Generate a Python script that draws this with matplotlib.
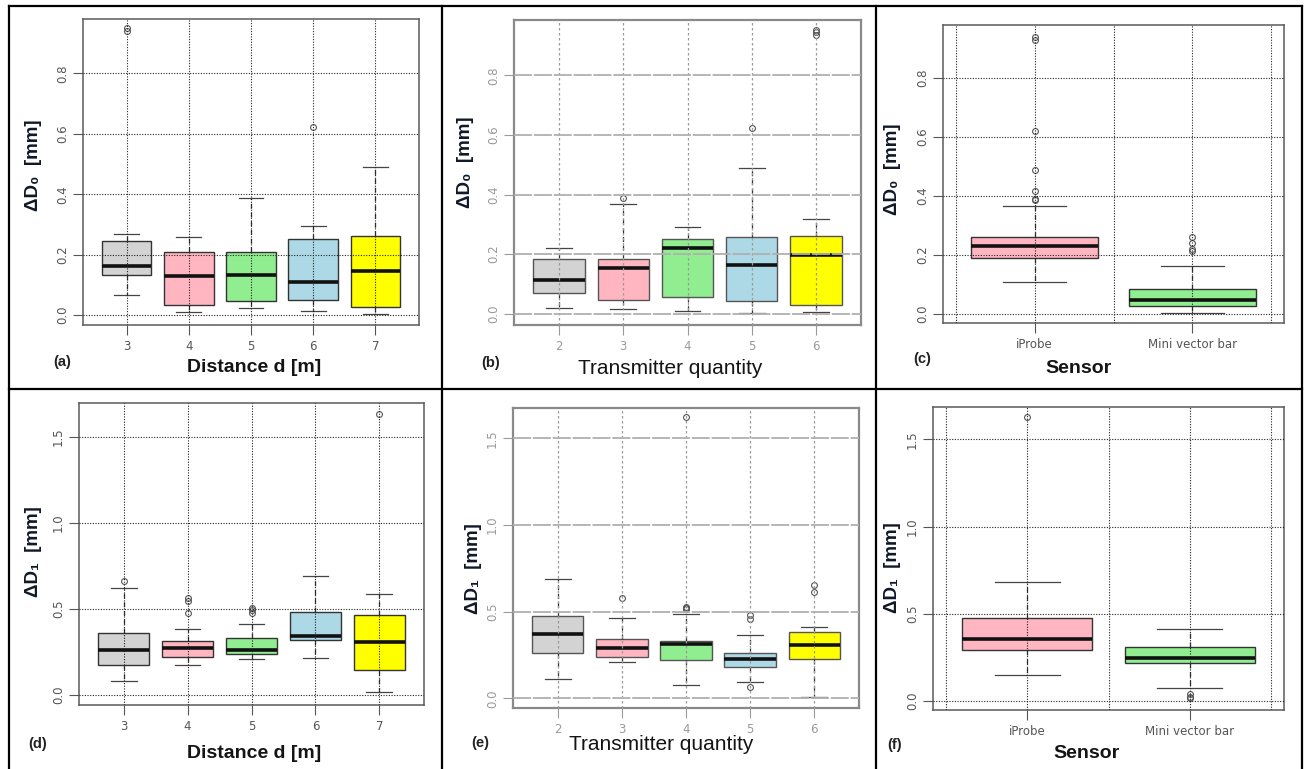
import matplotlib
matplotlib.use('Agg')
import matplotlib.pyplot as plt
from matplotlib.lines import Line2D
from matplotlib.ticker import FormatStrFormatter

W, H = 1304, 769

# categories
distance = ['3', '4', '5', '6', '7']
transmitters = ['2', '3', '4', '5', '6']
sensors = ['iProbe', 'Mini vector bar']

# five-number summaries per box: [whislo, q1, med, q3, whishi]
dist_d0 = [[0.065, 0.132, 0.162, 0.246, 0.269],
           [0.009, 0.034, 0.128, 0.210, 0.257],
           [0.022, 0.045, 0.132, 0.210, 0.389],
           [0.012, 0.049, 0.109, 0.253, 0.296],
           [0.004, 0.026, 0.146, 0.263, 0.489]]
dist_d0_out = [[0.940, 0.950], [], [], [0.623], []]

trans_d0 = [[0.020, 0.068, 0.113, 0.183, 0.221],
            [0.015, 0.047, 0.152, 0.182, 0.368],
            [0.009, 0.056, 0.219, 0.251, 0.290],
            [0.002, 0.041, 0.162, 0.256, 0.490],
            [0.007, 0.029, 0.196, 0.260, 0.317]]
trans_d0_out = [[], [0.390], [], [0.624], [0.937, 0.945, 0.952]]

sens_d0 = [[0.109, 0.188, 0.229, 0.259, 0.367],
           [0.003, 0.026, 0.046, 0.085, 0.162]]
sens_d0_out = [[0.386, 0.390, 0.418, 0.488, 0.622, 0.930, 0.939],
               [0.214, 0.219, 0.241, 0.262]]

dist_d1 = [[0.081, 0.174, 0.263, 0.362, 0.623],
           [0.176, 0.223, 0.271, 0.315, 0.383],
           [0.207, 0.236, 0.259, 0.329, 0.410],
           [0.215, 0.317, 0.343, 0.484, 0.689],
           [0.015, 0.145, 0.310, 0.466, 0.586]]
dist_d1_out = [[0.660], [0.478, 0.546, 0.561], [0.478, 0.494, 0.507], [], [1.633]]

trans_d1 = [[0.110, 0.263, 0.373, 0.475, 0.687],
            [0.208, 0.240, 0.290, 0.340, 0.462],
            [0.079, 0.223, 0.315, 0.333, 0.485],
            [0.094, 0.181, 0.227, 0.263, 0.365],
            [0.006, 0.227, 0.306, 0.381, 0.410]]
trans_d1_out = [[], [0.581], [0.515, 0.520, 0.529, 1.622], [0.067, 0.456, 0.481], [0.612, 0.654]]

sens_d1 = [[0.151, 0.292, 0.355, 0.478, 0.684],
           [0.075, 0.216, 0.245, 0.308, 0.413]]
sens_d1_out = [[1.626], [0.015, 0.025, 0.040]]

box_colors = ['#d3d3d3', '#ffb6c1', '#90ee90', '#add8e6', '#ffff00']
sensor_colors = ['#ffb6c1', '#90ee90']

LABEL_FONT = ['Liberation Sans', 'DejaVu Sans']


def px_axes(fig, x0, y0, x1, y1):
    return fig.add_axes([x0 / W, 1 - y1 / H, (x1 - x0) / W, (y1 - y0) / H])


def draw_panel(ax, cats, stats, outs, colors, ylim, yticks, blurry=False):
    data = []
    for s, o in zip(stats, outs):
        data.append({'whislo': s[0], 'q1': s[1], 'med': s[2], 'q3': s[3],
                     'whishi': s[4], 'fliers': o})
    pos = list(range(1, len(cats) + 1))
    edge = '#555555' if blurry else '#333333'
    bp = ax.bxp(data, positions=pos, widths=0.8, capwidths=0.4, patch_artist=True,
                boxprops=dict(edgecolor=edge, linewidth=1.0),
                medianprops=dict(color='#111111', linewidth=2.6),
                whiskerprops=dict(color='#333333', linewidth=0.9, linestyle=(0, (4, 3))),
                capprops=dict(color='#444444', linewidth=0.9),
                flierprops=dict(marker='o', markerfacecolor='none', markeredgecolor='#555555',
                                markersize=4.2, markeredgewidth=0.8))
    for patch, c in zip(bp['boxes'], colors):
        patch.set_facecolor(c)

    n = len(cats)
    pad = 0.04 * n
    ax.set_xlim(0.5 - pad, n + 0.5 + pad)
    ax.set_ylim(*ylim)
    ax.set_xticks(pos)
    ax.set_xticklabels(cats)
    ax.set_yticks(yticks)
    ax.yaxis.set_major_formatter(FormatStrFormatter('%.1f'))
    if n == 2:
        ax.set_xticks([0.5, 1.5, 2.5], minor=True)
        ax.tick_params(axis='x', which='minor', length=0)

    tick_col = '#9a9a9a' if blurry else '#555555'
    frame_col = '#8a8a8a' if blurry else '#5a5a5a'
    ax.tick_params(axis='both', direction='out', length=7, width=0.8,
                   color=tick_col, labelcolor=tick_col, labelsize=8.5)
    ax.tick_params(axis='x', pad=4)
    ax.tick_params(axis='y', labelrotation=90, pad=3)
    for lab in ax.get_yticklabels():
        lab.set_va('center')
    for sp in ax.spines.values():
        sp.set_color(frame_col)
        sp.set_linewidth(1.6 if blurry else 1.1)

    ax.set_axisbelow(False)
    if blurry:
        ax.grid(True, axis='y', color='#b0b0b0', linewidth=1.3, linestyle=(0, (10, 1)))
        ax.grid(True, axis='x', color='#9a9a9a', linewidth=0.9, linestyle=(0, (2, 2)))
    else:
        ax.grid(True, which='both', color='#222222', linewidth=0.8, linestyle=(0, (1, 1.4)))


fig = plt.figure(figsize=(W / 100, H / 100), dpi=100)
fig.patch.set_facecolor('white')

panels = [
    # frame px, cats, stats, outliers, colors, ylim, yticks, blurry
    ((83, 19, 419, 325), distance, dist_d0, dist_d0_out, box_colors, (-0.033, 0.980),
     [0.0, 0.2, 0.4, 0.6, 0.8], False),
    ((514, 20, 861, 325), transmitters, trans_d0, trans_d0_out, box_colors, (-0.038, 0.986),
     [0.0, 0.2, 0.4, 0.6, 0.8], True),
    ((943, 25, 1284, 323), sensors, sens_d0, sens_d0_out, sensor_colors, (-0.032, 0.981),
     [0.0, 0.2, 0.4, 0.6, 0.8], False),
    ((79, 403, 424, 705), distance, dist_d1, dist_d1_out, box_colors, (-0.058, 1.696),
     [0.0, 0.5, 1.0, 1.5], False),
    ((513, 408, 859, 708), transmitters, trans_d1, trans_d1_out, box_colors, (-0.056, 1.675),
     [0.0, 0.5, 1.0, 1.5], True),
    ((933, 407, 1284, 710), sensors, sens_d1, sens_d1_out, sensor_colors, (-0.052, 1.686),
     [0.0, 0.5, 1.0, 1.5], False),
]

for rect, cats, stats, outs, cols, ylim, yticks, blurry in panels:
    ax = px_axes(fig, *rect)
    draw_panel(ax, cats, stats, outs, cols, ylim, yticks, blurry)

# axis titles and panel letters (placed in pixel coords)
ylabels = [(33, 165, 'ΔD₀  [mm]'), (465, 162, 'ΔD₀  [mm]'), (892, 169, 'ΔD₀  [mm]'),
           (33, 552, 'ΔD₁  [mm]'), (473, 569, 'ΔD₁  [mm]'), (892, 568, 'ΔD₁  [mm]')]
for x, y, t in ylabels:
    fig.text(x / W, 1 - y / H, t, rotation=90, ha='center', va='center',
             fontsize=13.5, fontweight='bold', color='#101828', family=LABEL_FONT)

xlabels = [(254, 367, 'Distance d [m]', 'bold'), (670, 368, 'Transmitter quantity', 'normal'),
           (1078, 369, 'Sensor', 'bold'), (254, 754, 'Distance d [m]', 'bold'),
           (661, 745, 'Transmitter quantity', 'normal'), (1086, 753, 'Sensor', 'bold')]
for x, y, t, w in xlabels:
    fs = 15 if w == 'normal' else 14
    fig.text(x / W, 1 - y / H, t, ha='center', va='center', fontsize=fs,
             fontweight=w, color='#141414', family=LABEL_FONT)

letters = [(62, 362, '(a)'), (491, 363, '(b)'), (922, 359, '(c)'),
           (38, 744, '(d)'), (480, 743, '(e)'), (895, 745, '(f)')]
for x, y, t in letters:
    fig.text(x / W, 1 - y / H, t, ha='center', va='center', fontsize=10.5,
             fontweight='bold', color='#222222', family=LABEL_FONT)

# table cell borders
for xv in [9, 442, 876, 1302]:
    fig.add_artist(Line2D([xv / W, xv / W], [1 - 6 / H, 0], color='black', linewidth=1.6))
for yv in [6, 389]:
    fig.add_artist(Line2D([9 / W, 1302 / W], [1 - yv / H, 1 - yv / H], color='black', linewidth=1.6))

fig.savefig('out.png', dpi=100, facecolor='white')
